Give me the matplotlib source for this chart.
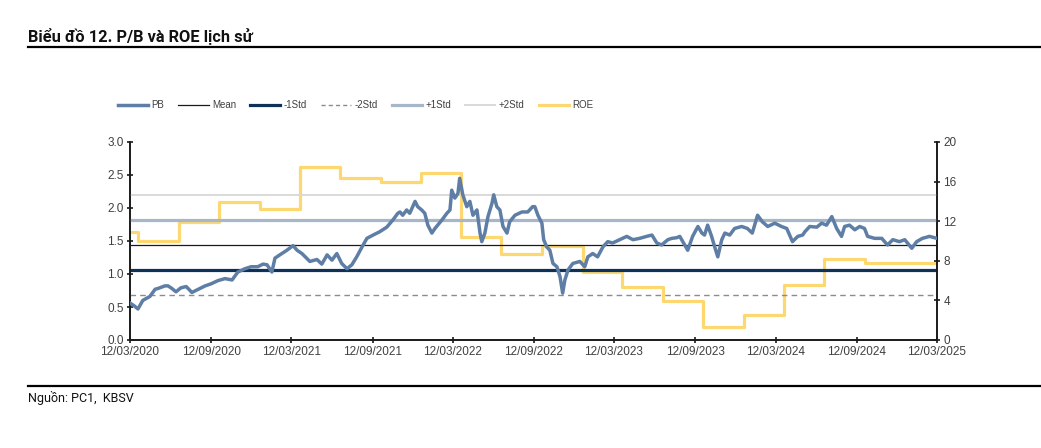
"""
Biểu đồ 12 — P/B và ROE lịch sử (PC1)
Redessin du graphique : P/B journalier + bandes mean/std + ROE trimestriel (axe droit)
"""

import matplotlib
matplotlib.use("Agg")
import matplotlib.dates as mdates
import matplotlib.pyplot as plt
import pandas as pd
from matplotlib.lines import Line2D

# --- Données -------------------------------------------------------------

pb_dates = [
    "2020-03-12", "2020-03-21", "2020-03-30", "2020-04-10", "2020-04-26", "2020-05-08",
    "2020-05-14", "2020-05-30", "2020-06-06", "2020-06-15", "2020-06-24", "2020-07-05",
    "2020-07-17", "2020-07-23", "2020-07-30", "2020-08-11", "2020-08-29", "2020-09-11",
    "2020-09-27", "2020-10-13", "2020-10-29", "2020-11-11", "2020-11-27", "2020-12-11",
    "2020-12-26", "2021-01-07", "2021-01-16", "2021-01-27", "2021-02-03", "2021-02-14",
    "2021-03-02", "2021-03-16", "2021-03-25", "2021-04-05", "2021-04-23", "2021-05-09",
    "2021-05-20", "2021-06-01", "2021-06-12", "2021-06-23", "2021-07-04", "2021-07-16",
    "2021-07-27", "2021-08-07", "2021-08-19", "2021-08-30", "2021-09-13", "2021-09-28",
    "2021-10-14", "2021-10-28", "2021-11-08", "2021-11-13", "2021-11-19", "2021-11-28",
    "2021-12-05", "2021-12-17", "2021-12-23", "2022-01-01", "2022-01-08", "2022-01-15",
    "2022-01-24", "2022-01-31", "2022-02-16", "2022-02-27", "2022-03-06", "2022-03-10",
    "2022-03-17", "2022-03-24", "2022-03-28", "2022-04-04", "2022-04-13", "2022-04-20",
    "2022-04-27", "2022-05-06", "2022-05-13", "2022-05-17", "2022-05-24", "2022-05-31",
    "2022-06-09", "2022-06-13", "2022-06-20", "2022-06-27", "2022-07-04", "2022-07-13",
    "2022-07-19", "2022-07-31", "2022-08-16", "2022-08-29", "2022-09-09", "2022-09-14",
    "2022-09-21", "2022-09-30", "2022-10-04", "2022-10-11", "2022-10-18", "2022-10-25",
    "2022-11-03", "2022-11-10", "2022-11-16", "2022-11-21", "2022-11-28", "2022-12-09",
    "2022-12-25", "2023-01-05", "2023-01-12", "2023-01-23", "2023-02-03", "2023-02-15",
    "2023-02-26", "2023-03-09", "2023-03-25", "2023-04-10", "2023-04-24", "2023-05-09",
    "2023-05-25", "2023-06-06", "2023-06-17", "2023-06-28", "2023-07-12", "2023-07-21",
    "2023-08-01", "2023-08-08", "2023-08-19", "2023-08-26", "2023-09-06", "2023-09-18",
    "2023-09-27", "2023-10-03", "2023-10-10", "2023-10-19", "2023-10-26", "2023-11-02",
    "2023-11-11", "2023-11-18", "2023-11-29", "2023-12-10", "2023-12-26", "2024-01-08",
    "2024-01-19", "2024-01-31", "2024-02-11", "2024-02-23", "2024-03-10", "2024-03-25",
    "2024-04-06", "2024-04-19", "2024-05-01", "2024-05-12", "2024-05-17", "2024-05-28",
    "2024-06-13", "2024-06-24", "2024-07-05", "2024-07-17", "2024-07-28", "2024-08-08",
    "2024-08-15", "2024-08-26", "2024-09-07", "2024-09-18", "2024-09-29", "2024-10-06",
    "2024-10-22", "2024-11-07", "2024-11-20", "2024-12-02", "2024-12-17", "2024-12-29",
    "2025-01-14", "2025-01-25", "2025-02-07", "2025-02-23", "2025-03-12",
]

pb_values = [
    0.56, 0.52, 0.47, 0.60, 0.66, 0.77,
    0.78, 0.82, 0.82, 0.78, 0.73, 0.79,
    0.81, 0.77, 0.72, 0.76, 0.82, 0.85,
    0.90, 0.93, 0.91, 1.03, 1.08, 1.11,
    1.11, 1.15, 1.14, 1.03, 1.24, 1.29,
    1.36, 1.43, 1.36, 1.31, 1.19, 1.22,
    1.15, 1.29, 1.21, 1.31, 1.16, 1.08,
    1.14, 1.26, 1.41, 1.54, 1.59, 1.64,
    1.71, 1.82, 1.92, 1.94, 1.89, 1.97,
    1.92, 2.10, 2.02, 1.97, 1.92, 1.74,
    1.62, 1.69, 1.82, 1.92, 1.97, 2.27,
    2.15, 2.22, 2.45, 2.20, 2.02, 2.10,
    1.89, 1.97, 1.62, 1.49, 1.62, 1.87,
    2.07, 2.20, 2.02, 1.97, 1.72, 1.62,
    1.79, 1.89, 1.94, 1.94, 2.02, 2.02,
    1.89, 1.77, 1.52, 1.41, 1.36, 1.16,
    1.11, 0.96, 0.71, 0.91, 1.06, 1.16,
    1.19, 1.11, 1.26, 1.31, 1.26, 1.41,
    1.49, 1.47, 1.52, 1.57, 1.52, 1.54,
    1.57, 1.59, 1.47, 1.44, 1.52, 1.54,
    1.55, 1.57, 1.44, 1.36, 1.57, 1.72,
    1.62, 1.59, 1.74, 1.57, 1.41, 1.26,
    1.52, 1.62, 1.59, 1.69, 1.72, 1.69,
    1.62, 1.89, 1.79, 1.72, 1.77, 1.72,
    1.69, 1.49, 1.57, 1.59, 1.64, 1.72,
    1.71, 1.77, 1.74, 1.87, 1.69, 1.57,
    1.72, 1.74, 1.67, 1.72, 1.69, 1.57,
    1.54, 1.54, 1.44, 1.52, 1.49, 1.52,
    1.39, 1.49, 1.54, 1.57, 1.54,
]

# ROE (%) par trimestre — valeur en vigueur à partir de chaque date
roe_dates = [
    "2020-03-12", "2020-03-31", "2020-06-30", "2020-09-30", "2020-12-31",
    "2021-03-31", "2021-06-30", "2021-09-30", "2021-12-31", "2022-03-31",
    "2022-06-30", "2022-09-30", "2022-12-31", "2023-03-31", "2023-06-30",
    "2023-09-30", "2023-12-31", "2024-03-31", "2024-06-30", "2024-09-30",
    "2025-03-12",
]
roe_values = [
    10.9, 10.0, 11.9, 13.9, 13.2,
    17.5, 16.4, 16.0, 16.9, 10.4,
    8.7, 9.5, 6.9, 5.4, 3.9,
    1.35, 2.5, 5.55, 8.15, 7.8,
    7.8,
]

# Bandes P/B
pb_mean = 1.44
pb_std = 0.38

x_ticks = ["2020-03-12", "2020-09-12", "2021-03-12", "2021-09-12", "2022-03-12",
           "2022-09-12", "2023-03-12", "2023-09-12", "2024-03-12", "2024-09-12",
           "2025-03-12"]

# --- Styles ---------------------------------------------------------------

FONT_CHART = ["Liberation Sans", "DejaVu Sans"]
FONT_TEXT = ["Roboto", "DejaVu Sans"]
TICK_COLOR = "#404040"

C_PB = "#5f7ea6"
C_MEAN = "#1a1a1a"
C_M1 = "#0d3157"
C_M2 = "#8c8c8c"
C_P1 = "#a8b6ca"
C_P2 = "#d9d9d9"
C_ROE = "#fdd870"

W, H = 1041, 448
fig = plt.figure(figsize=(W / 100, H / 100), dpi=100)

# Axes principaux (P/B) + axe droit ROE
ax2 = fig.add_axes([130 / W, 1 - 340 / H, 807 / W, 198 / H])
ax = ax2.twinx()
ax.yaxis.tick_left()
ax2.yaxis.tick_right()

pb_x = pd.to_datetime(pb_dates)
roe_x = pd.to_datetime(roe_dates)

# ROE en escalier (derrière)
ax2.step(roe_x, roe_values, where="post", color=C_ROE, linewidth=2.3, zorder=1)

# Bandes horizontales
ax.axhline(pb_mean + 2 * pb_std, color=C_P2, linewidth=1.4, zorder=2)
ax.axhline(pb_mean + pb_std, color=C_P1, linewidth=2.3, zorder=2)
ax.axhline(pb_mean, color=C_MEAN, linewidth=0.9, zorder=2)
ax.axhline(pb_mean - pb_std, color=C_M1, linewidth=2.3, zorder=2)
ax.axhline(pb_mean - 2 * pb_std, color=C_M2, linewidth=1.0,
           linestyle=(0, (4, 3)), zorder=2)

# P/B
ax.plot(pb_x, pb_values, color=C_PB, linewidth=2.5, zorder=3)

# Limites / ticks
xmin, xmax = pd.Timestamp("2020-03-12"), pd.Timestamp("2025-03-12")
ax.set_xlim(xmin, xmax)
ax2.set_xlim(xmin, xmax)
ax.set_ylim(0, 3.0)
ax2.set_ylim(0, 20)
ax.set_yticks([0, 0.5, 1.0, 1.5, 2.0, 2.5, 3.0])
ax.set_yticklabels([f"{v:.1f}" for v in [0, 0.5, 1.0, 1.5, 2.0, 2.5, 3.0]])
ax2.set_yticks([0, 4, 8, 12, 16, 20])
ax2.set_xticks(pd.to_datetime(x_ticks))
ax2.xaxis.set_major_formatter(mdates.DateFormatter("%d/%m/%Y"))
ax.tick_params(axis="x", bottom=False, labelbottom=False)

for a in (ax, ax2):
    a.spines["top"].set_visible(False)
    for side in ("left", "right", "bottom"):
        a.spines[side].set_linewidth(1.2)
        a.spines[side].set_color("#1a1a1a")
    a.tick_params(direction="inout", length=5, width=1.2, color="#1a1a1a",
                  labelcolor=TICK_COLOR, labelsize=8.5, pad=2)
    for lbl in a.get_xticklabels() + a.get_yticklabels():
        lbl.set_family(FONT_CHART)

# Légende (au-dessus du graphique)
handles = [
    Line2D([], [], color=C_PB, linewidth=2.5),
    Line2D([], [], color=C_MEAN, linewidth=0.9),
    Line2D([], [], color=C_M1, linewidth=2.3),
    Line2D([], [], color=C_M2, linewidth=1.0, linestyle=(0, (3, 2.2))),
    Line2D([], [], color=C_P1, linewidth=2.3),
    Line2D([], [], color=C_P2, linewidth=1.4),
    Line2D([], [], color=C_ROE, linewidth=2.3),
]
labels = ["PB", "Mean", "-1Std", "-2Std", "+1Std", "+2Std", "ROE"]
fig.legend(handles, labels, ncol=7, loc="center left",
           bbox_to_anchor=(118 / W, 1 - 105 / H), frameon=False,
           borderpad=0, borderaxespad=0, handlelength=3.1, handletextpad=0.35,
           columnspacing=1.45, prop={"family": FONT_CHART, "size": 7},
           labelcolor=TICK_COLOR)

# Titre, filets et source
fig.text(28 / W, 1 - 36 / H, "Biểu đồ 12. P/B và ROE lịch sử", family=FONT_TEXT,
         fontweight="bold", fontsize=11.8, va="center", ha="left", color="#111111")
fig.add_artist(Line2D([28 / W, 1.0], [1 - 47 / H] * 2, color="black", linewidth=1.6))
fig.add_artist(Line2D([28 / W, 1.0], [1 - 386 / H] * 2, color="black", linewidth=1.6))
fig.text(28 / W, 1 - 398 / H, "Nguồn: PC1,  KBSV", family=FONT_TEXT,
         fontsize=9, va="center", ha="left", color="#111111")

fig.savefig("out.png", dpi=100)
